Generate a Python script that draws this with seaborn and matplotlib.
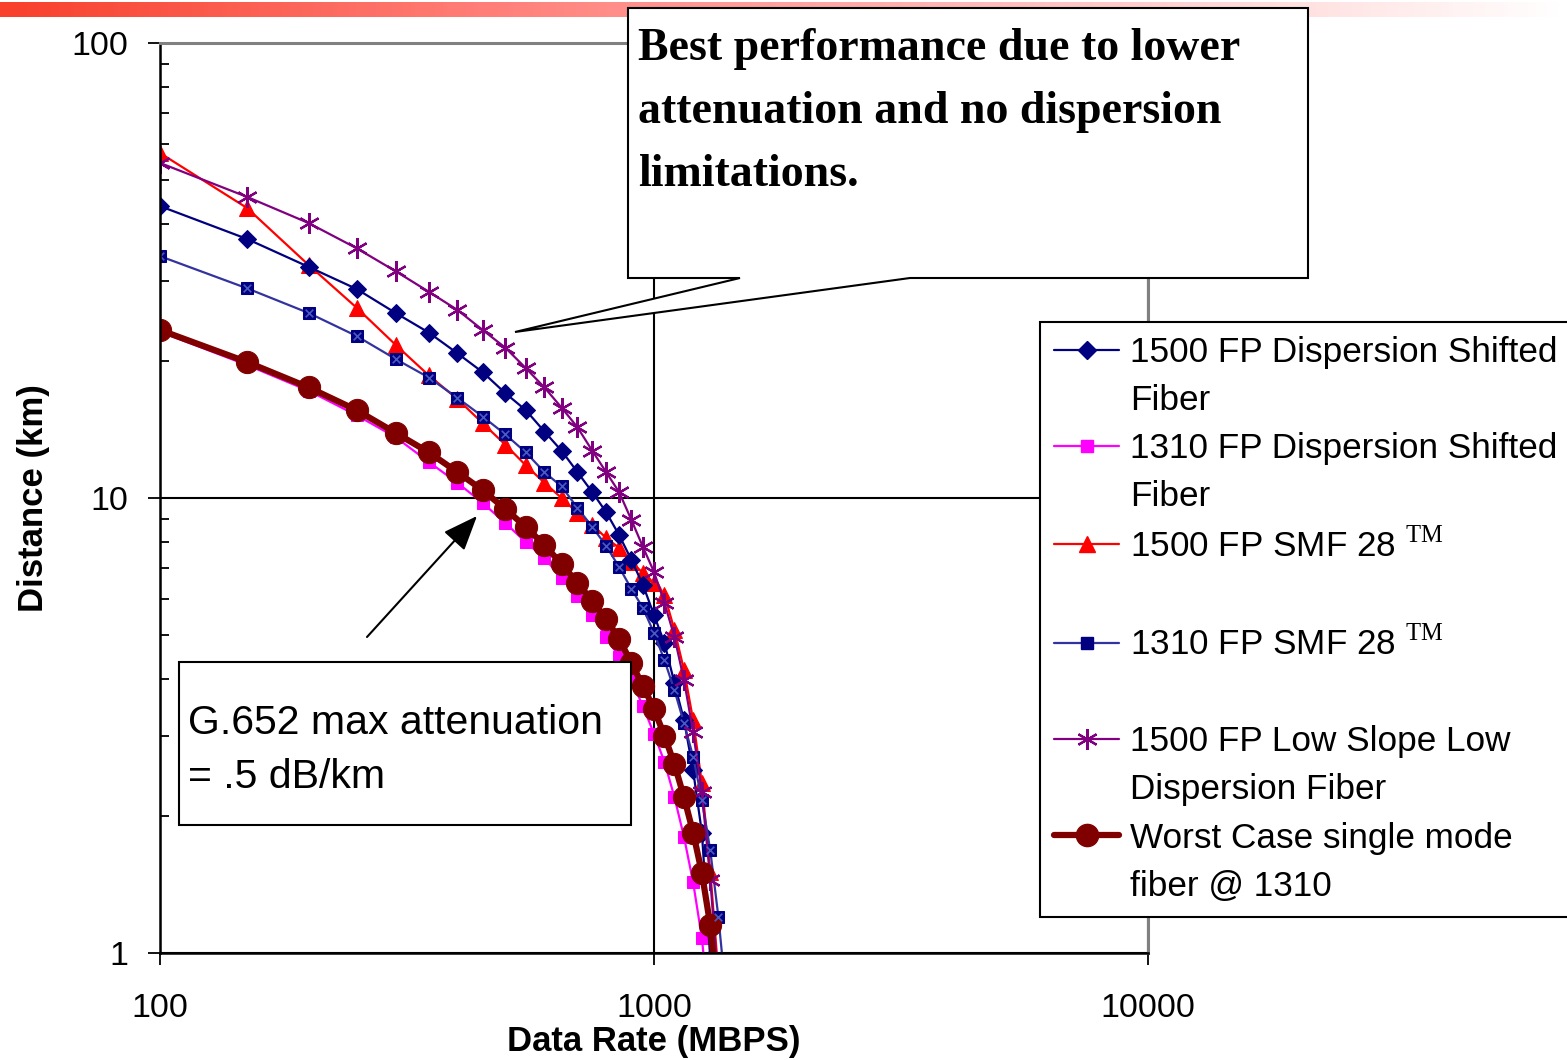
import numpy as np
import pandas as pd
import matplotlib.pyplot as plt
import seaborn as sns
from matplotlib.patches import Polygon, Rectangle
from matplotlib.lines import Line2D
from matplotlib.colors import LinearSegmentedColormap
from matplotlib.ticker import NullLocator, NullFormatter, FixedLocator, FixedFormatter

# ---- data ----
rate = [100, 150, 200, 250, 300, 350, 400, 450, 500, 550, 600, 650, 700, 750,
        800, 850, 900, 950, 1000, 1050, 1100, 1150, 1200, 1250, 1300, 1350, 1400]

dsf_1500 = [43.8, 37.1, 32.2, 28.8, 25.5, 23.1, 20.8, 18.9, 17.0, 15.6, 14.0, 12.7,
            11.4, 10.3, 9.31, 8.29, 7.31, 6.44, 5.53, 4.80, 3.92, 3.25, 2.52, 1.84, 0.97]
dsf_1310 = [23.2, 19.6, 17.2, 15.2, 13.6, 12.0, 10.8, 9.75, 8.81, 8.0, 7.38, 6.67,
            6.09, 5.53, 4.95, 4.47, 3.96, 3.49, 3.03, 2.63, 2.20, 1.80, 1.43, 1.08, 0.70]
smf_1500 = [57.3, 43.4, 32.5, 26.2, 21.7, 18.6, 16.5, 14.6, 13.1, 11.8, 10.8, 10.0,
            9.27, 8.73, 8.17, 7.77, 7.23, 6.84, 6.50, 6.12, 5.13, 4.19, 3.25, 2.36, 1.51, 0.90]
smf_1310 = [34.0, 28.9, 25.5, 22.7, 20.2, 18.4, 16.6, 15.1, 13.8, 12.6, 11.4, 10.6,
            9.51, 8.64, 7.85, 7.05, 6.31, 5.73, 5.05, 4.40, 3.78, 3.20, 2.70, 2.17, 1.68, 1.20, 0.80]
lowslope_1500 = [54.5, 45.9, 40.2, 35.4, 31.5, 28.4, 25.9, 23.4, 21.4, 19.3, 17.5, 15.8,
                 14.3, 12.7, 11.4, 10.3, 8.95, 7.80, 6.88, 5.88, 4.95, 3.98, 3.06, 2.26, 1.45, 0.85]
worst_1310 = [23.4, 19.9, 17.5, 15.6, 13.9, 12.6, 11.4, 10.4, 9.46, 8.64, 7.88, 7.16,
              6.51, 5.94, 5.42, 4.90, 4.34, 3.86, 3.44, 3.0, 2.60, 2.20, 1.84, 1.50, 1.15, 0.75]

legend_rows = ["1500 FP Dispersion Shifted", "Fiber",
               "1310 FP Dispersion Shifted", "Fiber",
               "1500 FP SMF 28 $^{\\mathrm{TM}}$", " ",
               "1310 FP SMF 28 $^{\\mathrm{TM}}$", " ",
               "1500 FP Low Slope Low", "Dispersion Fiber",
               "Worst Case single mode", "fiber @ 1310"]

x_ticks = [100, 1000, 10000]
x_tick_labels = ["100", "1000", "10000"]
y_ticks = [1, 10, 100]
y_tick_labels = ["1", "10", "100"]

# ---- style ----
sns.set_theme(style="white", rc={"text.color": "black", "axes.labelcolor": "black",
                                 "xtick.color": "black", "ytick.color": "black",
                                 "axes.edgecolor": "black"})
plt.rcParams['font.family'] = ['Liberation Sans', 'DejaVu Sans']
plt.rcParams['mathtext.fontset'] = 'custom'
plt.rcParams['mathtext.rm'] = 'Liberation Serif'

W, H = 1567, 1060


def fx(px):
    return px / W


def fy(py):
    return 1 - py / H


fig = plt.figure(figsize=(W / 100, H / 100), dpi=100)

# red fading bar at the top of the slide
gax = fig.add_axes([0, fy(17), 1, 15 / H])
cmap = LinearSegmentedColormap.from_list(
    "bar", [(0, "#f8402c"), (0.3, "#ff7d76"), (0.6, "#ffb4b4"), (0.85, "#ffe4e4"), (1, "#ffffff")])
gax.imshow(np.linspace(0, 1, 400)[None, :], aspect="auto", cmap=cmap)
gax.axis("off")

ax = fig.add_axes([fx(160), fy(953), (1148 - 160) / W, (953 - 43) / H])
ax.set_xscale("log")
ax.set_yscale("log")

series = [
    # data, style
    (dsf_1310, dict(color="#ff00ff", marker="s", ms=8, mfc="#ff00ff", mec="#ff00ff", lw=1.6)),
    (smf_1500, dict(color="#ff0000", marker="^", ms=12, mfc="#ff0000", mec="#ff0000", lw=1.6)),
    (dsf_1500, dict(color="#000080", marker="D", ms=9, mfc="#000080", mec="#000080", lw=1.6)),
    (smf_1310, dict(color="#3333a0", marker="s", ms=9, mfc="#000080", mec="#000080", lw=1.6)),
    (lowslope_1500, dict(color="#800080", marker=(6, 2, 0), ms=15, mfc="#800080", mec="#800080",
                         mew=1.6, lw=1.6)),
    (worst_1310, dict(color="#800000", marker="o", ms=16, mfc="#800000", mec="#800000", lw=4.5)),
]

handles = {}
for vals, st in series:
    df = pd.DataFrame({"rate": rate[:len(vals)], "dist": vals})
    sns.lineplot(data=df, x="rate", y="dist", ax=ax, estimator=None, **st)
    handles[id(vals)] = Line2D([], [], **st)
    if vals is smf_1310:
        sns.scatterplot(data=df, x="rate", y="dist", ax=ax, marker="x", s=30,
                        color="#4a5ac0", linewidth=1.2, zorder=2.1)

ax.set_xlim(100, 10000)
ax.set_ylim(1, 100)

ax.xaxis.set_major_locator(FixedLocator(x_ticks))
ax.xaxis.set_major_formatter(FixedFormatter(x_tick_labels))
ax.xaxis.set_minor_locator(NullLocator())
ax.yaxis.set_major_locator(FixedLocator(y_ticks))
ax.yaxis.set_major_formatter(FixedFormatter(y_tick_labels))
ax.yaxis.set_minor_formatter(NullFormatter())

ax.tick_params(axis="both", which="major", direction="out", length=8.6, width=1.3,
               labelsize=24.5, bottom=True, left=True)
ax.tick_params(axis="x", which="major", pad=20)
ax.tick_params(axis="y", which="major", pad=14)
ax.tick_params(axis="y", which="minor", direction="in", length=6.5, width=1.3, left=True)

ax.grid(True, which="major", color="black", lw=1.5)
ax.set_axisbelow(True)
for side in ["left", "bottom"]:
    ax.spines[side].set_color("black")
    ax.spines[side].set_linewidth(1.8)
for side in ["top", "right"]:
    ax.spines[side].set_color("#808080")
    ax.spines[side].set_linewidth(2.2)

ax.set_xlabel("Data Rate (MBPS)", fontsize=25, fontweight="bold", labelpad=1)
ax.set_ylabel("Distance (km)", fontsize=25, fontweight="bold", labelpad=16)

# legend, one row per text line
blank = Line2D([], [], linestyle="none")
order = [dsf_1500, dsf_1310, smf_1500, smf_1310, lowslope_1500, worst_1310]
leg_handles = []
for vals in order:
    leg_handles += [handles[id(vals)], blank]
leg = ax.legend(leg_handles, legend_rows, loc="upper left",
                bbox_to_anchor=(fx(1040), fy(322)), bbox_transform=fig.transFigure,
                fontsize=25.3, frameon=True, fancybox=False, edgecolor="black",
                framealpha=1, borderpad=0.4, labelspacing=0.43, handlelength=1.86,
                handletextpad=0.3, borderaxespad=0)
leg.get_frame().set_linewidth(1.5)

# callout: best performance
pts = [(628, 8), (1308, 8), (1308, 278), (910, 278), (515, 332), (740, 278), (628, 278)]
fig.add_artist(Polygon([(fx(x), fy(y)) for x, y in pts], closed=True,
                       transform=fig.transFigure, fc="white", ec="black", lw=1.5))
fig.text(fx(638), fy(28), "Best performance due to lower\nattenuation and no dispersion\nlimitations.",
         fontfamily="Liberation Serif", fontweight="bold", fontsize=33,
         ha="left", va="top", linespacing=1.66)

# callout: G.652
fig.add_artist(Rectangle((fx(179), fy(825)), (631 - 179) / W, (825 - 662) / H,
                         transform=fig.transFigure, fc="white", ec="black", lw=1.5))
fig.text(fx(188), fy(704), "G.652 max attenuation\n= .5 dB/km", fontsize=29.5,
         ha="left", va="top", linespacing=1.54)
ax.annotate("", xy=(477, H - 516), xytext=(367, H - 637), xycoords="figure pixels",
            textcoords="figure pixels",
            arrowprops=dict(arrowstyle="-|>,head_length=0.9,head_width=0.36",
                            mutation_scale=24, lw=1.5, color="black",
                            shrinkA=0, shrinkB=0))

fig.savefig("out.png", dpi=100)
